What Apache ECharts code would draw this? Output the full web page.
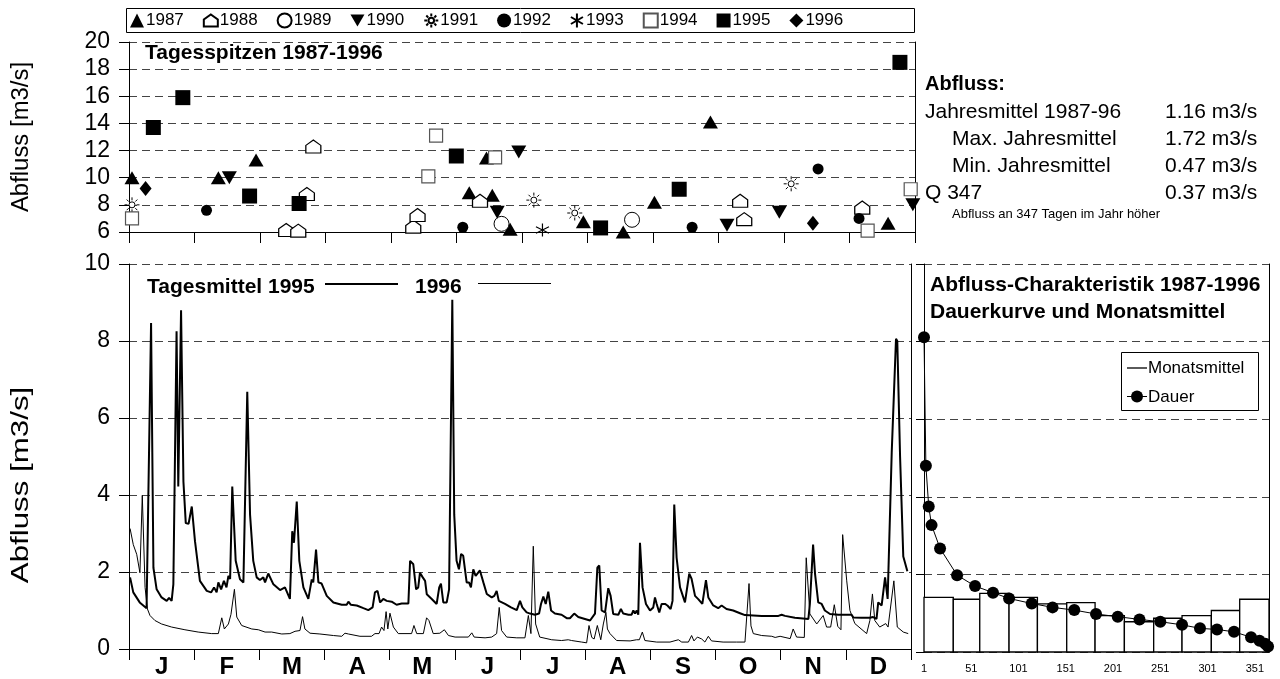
<!DOCTYPE html>
<html lang="de">
<head>
<meta charset="utf-8" />
<title>Abfluss 1987-1996</title>
<script src="https://cdn.jsdelivr.net/npm/echarts@6/dist/echarts.min.js"></script>
<style>
  html, body { margin: 0; padding: 0; background: #fff; }
  #main { width: 1280px; height: 679px; }
</style>
</head>
<body>
<div id="main"></div>
<script type="text/javascript">

// --- data ------------------------------------------------------------
var months = ['J', 'F', 'M', 'A', 'M', 'J', 'J', 'A', 'S', 'O', 'N', 'D'];
var years = ['1987', '1988', '1989', '1990', '1991', '1992', '1993', '1994', '1995', '1996'];

// daily peaks [day of year, m3/s]
var peaks1987 = [[1.4, 10], [41.5, 10], [59, 11.3], [158, 8.9], [166, 11.45], [168.7, 8.7], [177, 6.2], [211, 6.75], [229.5, 6.0], [244, 8.2], [270, 14.1], [352.5, 6.65]];
var peaks1988 = [[73, 6.15], [78.6, 6.1], [82.6, 8.8], [85.6, 12.3], [132, 6.4], [134, 7.25], [163, 8.3], [283.8, 8.3], [285.7, 6.95], [340.5, 7.8]];
var peaks1989 = [[173, 6.6], [233.6, 6.9]];
var peaks1990 = [[46.6, 10], [171, 7.45], [181, 11.9], [277.7, 6.5], [302, 7.45], [364, 8.0]];
var peaks1991 = [[1.4, 8], [188, 8.35], [207, 7.4], [307.5, 9.55]];
var peaks1992 = [[36, 7.6], [155, 6.35], [261.5, 6.35], [320, 10.65], [339, 7.0]];
var peaks1993 = [[192, 6.15]];
var peaks1994 = [[1.4, 7.0], [139, 10.1], [142.6, 13.1], [170, 11.5], [343, 6.1], [363, 9.15]];
var peaks1995 = [[11.3, 13.7], [25, 15.9], [56, 8.65], [79, 8.1], [152, 11.6], [219, 6.3], [255.5, 9.15], [358, 18.5]];
var peaks1996 = [[7.7, 9.2], [317.6, 6.65]];

// daily means [day of year, m3/s]
var mean1995 = [[0.5,1.86],[2,1.47],[5,1.21],[8.2,1.06],[10.3,8.47],[11.4,2.11],[12.9,1.55],[15.2,1.34],[17.6,1.25],[18.7,1.33],[19.9,1.25],[20.7,1.68],[22.2,8.25],[23,4.22],[24.3,8.8],[25.4,4.35],[26.5,3.27],[27.8,3.25],[29.3,3.7],[30.8,2.8],[33.1,1.77],[36.3,1.51],[38.3,1.47],[39.7,1.6],[40.9,1.47],[41.7,1.73],[43,1.55],[44.3,1.77],[45.5,1.6],[46.4,1.9],[47.2,1.82],[48.2,4.22],[49.8,2.29],[51.8,1.81],[53.4,1.73],[55.2,6.68],[56.5,3.49],[58,2.29],[59.6,1.86],[61.1,1.79],[62.7,1.86],[63.5,1.73],[65,1.96],[67.4,1.68],[70.5,1.53],[72.8,1.6],[75.1,1.3],[76.2,3.06],[77,2.76],[78.3,3.83],[79.5,2.29],[81.4,1.6],[83.7,1.3],[85.3,1.81],[86,1.73],[87.3,2.58],[88.4,1.73],[89.9,1.7],[92.3,1.38],[95.4,1.21],[99.3,1.15],[101.6,1.15],[102.4,1.23],[103.5,1.15],[106.3,1.13],[109.4,1.06],[111.7,1.01],[113.7,1.08],[114.8,1.47],[116,1.51],[117.2,1.21],[118.7,1.3],[120.3,1.25],[122.6,1.23],[124.9,1.15],[127.3,1.18],[130.4,1.18],[131.2,2.29],[132.7,2.2],[134,1.55],[135,1.6],[135.8,1.98],[137.1,1.86],[138.2,1.77],[139,1.42],[141.3,1.3],[143.6,1.17],[144.8,1.6],[145.6,1.7],[146.7,1.21],[148.3,1.21],[149.4,1.55],[150.9,9.07],[151.8,3.49],[152.9,2.29],[154,2.07],[155,2.47],[156,2.42],[157.6,1.73],[158.7,1.73],[159.6,1.6],[160.7,2.07],[161.8,1.9],[163.8,2.04],[165.4,1.73],[167,1.43],[169.3,1.34],[170.5,1.38],[171.6,1.51],[172.6,1.25],[175.5,1.17],[178.3,1.08],[181,1.01],[182.5,1.25],[183.6,1.08],[185.6,0.95],[187.2,0.92],[189.5,0.89],[191.4,0.92],[192.3,1.17],[193.4,1.36],[194.5,1.17],[195.7,1.49],[197,1.0],[198.8,0.92],[201.9,0.89],[204.3,0.8],[205.8,0.8],[207.8,0.92],[209.7,0.83],[212.8,0.78],[215.2,0.74],[217.5,0.92],[218.6,2.11],[219.5,2.17],[220.6,1.0],[222.2,0.95],[223.7,1.58],[224.8,1.38],[226,0.91],[228.4,0.89],[229.6,1.04],[230.7,0.92],[233.1,0.89],[233.9,0.92],[234.6,0.89],[235.4,1.0],[236.2,0.92],[237,1.0],[237.7,0.89],[238.5,2.76],[239.7,1.6],[241.3,1.17],[243.2,1.0],[244.7,1.08],[245.5,1.34],[246.3,1.17],[247.5,0.95],[248.6,1.17],[250.2,1.17],[251.3,1.13],[252.8,1.04],[253.7,1.25],[254.5,3.75],[255.6,2.37],[257.2,1.6],[259.5,1.21],[261.5,1.96],[262.6,1.82],[264.2,1.38],[265.8,1.29],[266.6,1.3],[267.6,1.17],[269.3,1.79],[270.4,1.34],[272.7,1.13],[275,1.06],[276.6,1.13],[278.9,1.04],[282,1.0],[285.2,0.93],[287.5,0.88],[295.3,0.86],[303.1,0.86],[304.6,0.89],[306.2,0.86],[310.8,0.81],[317.1,0.78],[317.8,1.17],[319.3,2.71],[320.2,1.96],[321.7,1.21],[323.3,1.17],[324.8,1.0],[327.2,0.91],[331.1,0.89],[335.7,0.89],[337.3,0.89],[338.1,0.82],[341.9,0.81],[345.8,0.81],[347.3,0.83],[348.9,0.78],[349.7,1.21],[351.3,1.13],[352.9,1.86],[354.1,1.3],[356,5.1],[358,8.06],[358.6,8.0],[359.9,5.0],[361.4,2.4],[363.3,2.02]];

var mean1996 = [[0.5,3.13],[2,2.71],[3.6,2.46],[5.1,1.98],[6.2,3.99],[7.5,1.6],[8.6,1.04],[9.8,0.87],[12.1,0.74],[15.2,0.65],[19.9,0.57],[26.1,0.5],[32.3,0.44],[38.6,0.4],[41.7,0.4],[43.3,0.81],[44.5,0.52],[46.4,0.65],[47.6,0.9],[49.2,1.55],[50.3,0.83],[52.6,0.61],[57.3,0.52],[60.4,0.5],[63.5,0.44],[66.6,0.44],[71.3,0.39],[75.1,0.4],[77.5,0.46],[79.8,0.48],[81,0.84],[82.1,0.52],[84.5,0.41],[89.1,0.39],[95.4,0.35],[99.3,0.33],[100.8,0.41],[102.4,0.39],[107.8,0.33],[113.2,0.33],[114.8,0.4],[116.7,0.4],[117.9,0.57],[119,0.48],[120,0.97],[120.8,0.52],[121.8,0.93],[123.4,0.57],[125.7,0.4],[131.9,0.4],[133,0.61],[134.3,0.4],[137.4,0.4],[138.9,0.81],[140,0.74],[142,0.4],[145.1,0.41],[147.2,0.5],[149.1,0.35],[152.2,0.31],[158.4,0.31],[160,0.42],[161.1,0.31],[166.2,0.29],[169.3,0.31],[171.6,0.4],[172.8,1.08],[173.9,0.48],[176.3,0.31],[181,0.29],[184.8,0.29],[186.4,0.87],[187.6,0.4],[188.7,2.67],[189.8,0.65],[191.7,0.31],[197.3,0.24],[201.9,0.22],[205,0.24],[206.6,0.22],[211.3,0.18],[213.6,0.16],[214.7,0.61],[216,0.3],[217.1,0.26],[218.6,0.61],[220.2,0.24],[221.4,0.65],[222.6,0.95],[223.3,0.52],[224.5,0.4],[227.6,0.22],[233.9,0.21],[236.9,0.24],[238.2,0.24],[239.6,0.44],[240.8,0.22],[246.3,0.18],[252.5,0.18],[256.4,0.24],[258,0.18],[261.1,0.18],[262.6,0.35],[263.7,0.21],[265.3,0.31],[267.3,0.26],[268.8,0.18],[270.4,0.33],[271.9,0.21],[277.3,0.18],[283.5,0.18],[287.5,0.18],[289.4,1.7],[290.3,0.6],[291.4,0.4],[295.3,0.35],[300,0.33],[301.6,0.3],[303.9,0.33],[306.2,0.3],[308.6,0.27],[310,0.52],[311.6,0.31],[315.2,0.3],[316.1,2.37],[317.8,0.91],[321,0.65],[324,0.87],[325.6,0.57],[327.5,0.57],[329.2,1.15],[330.8,0.59],[332.3,0.5],[333.1,2.97],[335,1.77],[336.5,1.0],[338.8,0.66],[344.3,0.4],[345.8,0.74],[347,1.43],[348.1,0.74],[350.4,0.57],[353.2,0.66],[354.3,0.57],[357,1.77],[358.6,0.57],[361.4,0.44],[363.7,0.4]];

// monthly means 1987-1996 and duration curve
var monthStart = [0, 31, 59, 90, 120, 151, 181, 212, 243, 273, 304, 334, 365];
var monthMean = [1.41, 1.36, 1.51, 1.41, 1.24, 1.27, 0.94, 0.78, 0.87, 0.94, 1.07, 1.36];
var dauerDay = [1, 3, 6, 9, 18, 36, 55, 74, 91, 115, 137, 160, 183, 206, 229, 251, 274, 293, 311, 329, 347, 356, 362, 365];
var dauerValue = [8.11, 4.8, 3.75, 3.27, 2.67, 1.98, 1.7, 1.53, 1.38, 1.25, 1.15, 1.08, 0.98, 0.91, 0.84, 0.78, 0.70, 0.61, 0.58, 0.52, 0.38, 0.29, 0.21, 0.14];

// key figures
var statLabels = ['Jahresmittel 1987-96', 'Max. Jahresmittel', 'Min. Jahresmittel', 'Q 347'];
var statValues = ['1.16 m3/s', '1.72 m3/s', '0.47 m3/s', '0.37 m3/s'];

// --- styles ----------------------------------------------------------
var FONT = "'Liberation Sans', Arial, Helvetica, sans-serif";
var GRID_LINE = { lineStyle: { color: '#444', type: [8, 5], width: 1 } };

var peaks = {
    '1987': peaks1987, '1988': peaks1988, '1989': peaks1989, '1990': peaks1990, '1991': peaks1991,
    '1992': peaks1992, '1993': peaks1993, '1994': peaks1994, '1995': peaks1995, '1996': peaks1996
};

var sun = 'path://M10,0 L10,4 M10,16 L10,20 M0,10 L4,10 M16,10 L20,10 M2.9,2.9 L5.6,5.6 M14.4,14.4 L17.1,17.1 M2.9,17.1 L5.6,14.4 M14.4,5.6 L17.1,2.9 M14,10 A4,4 0 1 1 6,10 A4,4 0 1 1 14,10 Z';
var markers = {
    '1987': { symbol: 'triangle', size: [15, 13], color: '#000' },
    '1988': { symbol: 'path://M0,12 L0,5 L7,0 L14,5 L14,12 Z', size: [15, 13], color: '#fff', border: '#000', bw: 1.2 },
    '1989': { symbol: 'circle', size: 15, color: '#fff', border: '#000', bw: 1 },
    '1990': { symbol: 'path://M0,0 L14,0 L7,12 Z', size: [15, 13], color: '#000' },
    '1991': { symbol: sun, size: 15, color: '#fff', border: '#000', bw: 1 },
    '1992': { symbol: 'circle', size: 11, color: '#000' },
    '1993': { symbol: 'path://M5,0 L5,10 M0.7,2.5 L9.3,7.5 M0.7,7.5 L9.3,2.5', size: 13, color: 'rgba(0,0,0,0)', border: '#000', bw: 1.2 },
    '1994': { symbol: 'rect', size: 13, color: '#fff', border: '#555', bw: 1.2 },
    '1995': { symbol: 'rect', size: 15, color: '#000' },
    '1996': { symbol: 'diamond', size: [12, 15], color: '#000' }
};

var series = years.map(function (y) {
    var m = markers[y];
    return {
        name: y, type: 'scatter', xAxisIndex: 1, yAxisIndex: 0,
        symbol: m.symbol, symbolSize: m.size,
        itemStyle: { color: m.color, borderColor: m.border || m.color, borderWidth: m.bw || 0, opacity: 1 },
        data: peaks[y], z: 5
    };
});

series.push({
    name: 'Tagesmittel 1996', type: 'line', xAxisIndex: 3, yAxisIndex: 2,
    showSymbol: false, symbol: 'none', lineStyle: { color: '#000', width: 1 }, data: mean1996
});
series.push({
    name: 'Tagesmittel 1995', type: 'line', xAxisIndex: 3, yAxisIndex: 2,
    showSymbol: false, symbol: 'none', lineStyle: { color: '#000', width: 2 }, data: mean1995
});

series.push({
    name: 'Monatsmittel', type: 'custom', xAxisIndex: 4, yAxisIndex: 4,
    data: monthMean.map(function (v, i) { return [monthStart[i], monthStart[i + 1], v]; }),
    encode: { x: [0, 1], y: 2 },
    renderItem: function (params, api) {
        var p0 = api.coord([api.value(0), api.value(2)]);
        var p1 = api.coord([api.value(1), 0]);
        return {
            type: 'rect',
            shape: { x: p0[0], y: p0[1], width: p1[0] - p0[0], height: p1[1] - p0[1] },
            style: { fill: '#fff', stroke: '#000', lineWidth: 1.3 }
        };
    },
    z: 2
});
series.push({
    name: 'Dauer', type: 'line', xAxisIndex: 4, yAxisIndex: 4,
    symbol: 'circle', symbolSize: 12,
    itemStyle: { color: '#000' }, lineStyle: { color: '#000', width: 1 },
    data: dauerDay.map(function (d, i) { return [d - 1, dauerValue[i]]; }),
    z: 4
});

function txt(x, y, text, size, bold, extra) {
    var o = {
        type: 'text', x: x, y: y, silent: true,
        style: {
            text: text, fill: '#000', font: (bold ? 'bold ' : '') + size + 'px ' + FONT,
            verticalAlign: 'middle', align: (extra && extra.center) ? 'center' : 'left'
        }
    };
    if (extra) {
        for (var k in extra) { if (k !== 'center') o[k] = extra[k]; }
    }
    return o;
}

var graphics = [
    { type: 'rect', shape: { x: 126.5, y: 8.5, width: 788, height: 24 }, style: { fill: 'none', stroke: '#000', lineWidth: 1 }, silent: true },
    txt(145, 53, 'Tagesspitzen 1987-1996', 21, true),
    txt(22, 137, 'Abfluss [m3/s]', 23, false, { center: true, rotation: Math.PI / 2, scaleX: 1.04 }),
    txt(22, 485, 'Abfluss [m3/s]', 23, false, { center: true, rotation: Math.PI / 2, scaleX: 1.36 }),
    txt(147, 287, 'Tagesmittel 1995', 21, true),
    { type: 'line', shape: { x1: 325, y1: 284, x2: 398, y2: 284 }, style: { stroke: '#000', lineWidth: 2 }, silent: true },
    txt(415, 287, '1996', 21, true),
    { type: 'line', shape: { x1: 478, y1: 283.5, x2: 551, y2: 283.5 }, style: { stroke: '#000', lineWidth: 1 }, silent: true },
    txt(930, 285, 'Abfluss-Charakteristik 1987-1996', 21, true),
    txt(930, 312, 'Dauerkurve und Monatsmittel', 21, true),
    { type: 'rect', shape: { x: 1121.5, y: 352.5, width: 137, height: 58 }, style: { fill: '#fff', stroke: '#000', lineWidth: 1 }, silent: true, z: 10 },
    { type: 'line', shape: { x1: 1127, y1: 368, x2: 1147, y2: 368 }, style: { stroke: '#000', lineWidth: 1.3 }, silent: true, z: 11 },
    txt(1148, 368, 'Monatsmittel', 17, false, { z: 11 }),
    { type: 'line', shape: { x1: 1127, y1: 396.5, x2: 1147, y2: 396.5 }, style: { stroke: '#000', lineWidth: 1 }, silent: true, z: 11 },
    { type: 'circle', shape: { cx: 1137, cy: 396.5, r: 6 }, style: { fill: '#000' }, silent: true, z: 11 },
    txt(1148, 397, 'Dauer', 17, false, { z: 11 }),
    txt(925, 84, 'Abfluss:', 20, true),
    txt(952, 214, 'Abfluss an 347 Tagen im Jahr höher', 13, false)
];
var statX = [925, 952, 952, 925];
statLabels.forEach(function (s, i) {
    graphics.push(txt(statX[i], 112 + i * 27, s, 21, false));
    graphics.push(txt(1165, 112 + i * 27, statValues[i], 21, false));
});

var myChart = echarts.init(document.getElementById('main'), null, { renderer: 'canvas' });

var option = {
    animation: false,
    backgroundColor: '#fff',
    textStyle: { fontFamily: FONT, color: '#000' },
    legend: {
        data: years, left: 130, top: 12, padding: 0, itemGap: 19,
        itemWidth: 14, itemHeight: 14, selectedMode: false,
        textStyle: { fontSize: 17, color: '#000', fontFamily: FONT, padding: [0, 0, 0, -3] }
    },
    grid: [
        { left: 129, top: 42, width: 786, height: 190 },
        { left: 129, top: 264, width: 782, height: 388 },
        { left: 924, top: 264, width: 345, height: 388 }
    ],
    xAxis: [
        {
            gridIndex: 0, type: 'category', data: months, boundaryGap: true,
            axisLine: { lineStyle: { color: '#000', width: 1 } },
            axisTick: { show: true, interval: 0, length: 11, lineStyle: { color: '#000' } },
            axisLabel: { show: false }, splitLine: { show: false }
        },
        { gridIndex: 0, type: 'value', min: 0, max: 365, show: false },
        {
            gridIndex: 1, type: 'category', data: months, boundaryGap: true,
            axisLine: { lineStyle: { color: '#000', width: 1 } },
            axisTick: { show: true, interval: 0, length: 11, lineStyle: { color: '#000' } },
            axisLabel: { interval: 0, fontSize: 24, fontWeight: 'bold', color: '#000', margin: 6, fontFamily: FONT },
            splitLine: { show: false }
        },
        { gridIndex: 1, type: 'value', min: 0, max: 365, show: false },
        {
            gridIndex: 2, type: 'value', min: 0, max: 365, interval: 50,
            axisLine: { show: false }, axisTick: { show: false }, splitLine: { show: false },
            axisLabel: {
                fontSize: 11, color: '#000', margin: 11, showMaxLabel: false,
                formatter: function (v) { return String(v + 1); }
            }
        }
    ],
    yAxis: [
        {
            gridIndex: 0, type: 'value', min: 6, max: 20, interval: 2,
            axisLine: { show: true, lineStyle: { color: '#000' } },
            axisTick: { show: true, length: 10, lineStyle: { color: '#000' } },
            axisLabel: { fontSize: 23, color: '#000', margin: 19, fontFamily: FONT },
            splitLine: GRID_LINE
        },
        {
            gridIndex: 0, type: 'value', min: 6, max: 20, position: 'right',
            axisLine: { show: true, lineStyle: { color: '#000' } },
            axisTick: { show: false }, axisLabel: { show: false }, splitLine: { show: false }
        },
        {
            gridIndex: 1, type: 'value', min: 0, max: 10, interval: 2,
            axisLine: { show: true, lineStyle: { color: '#000' } },
            axisTick: { show: true, length: 10, lineStyle: { color: '#000' } },
            axisLabel: { fontSize: 23, color: '#000', margin: 19, fontFamily: FONT },
            splitLine: GRID_LINE
        },
        {
            gridIndex: 1, type: 'value', min: 0, max: 10, position: 'right',
            axisLine: { show: true, lineStyle: { color: '#000' } },
            axisTick: { show: false }, axisLabel: { show: false }, splitLine: { show: false }
        },
        {
            gridIndex: 2, type: 'value', min: 0, max: 10, interval: 2,
            axisLine: { show: true, lineStyle: { color: '#000' } },
            axisTick: { show: true, length: 8, lineStyle: { color: '#000' } },
            axisLabel: { show: false },
            splitLine: GRID_LINE
        },
        {
            gridIndex: 2, type: 'value', min: 0, max: 10, position: 'right',
            axisLine: { show: true, lineStyle: { color: '#000' } },
            axisTick: { show: false }, axisLabel: { show: false }, splitLine: { show: false }
        }
    ],
    series: series,
    graphic: graphics
};

myChart.setOption(option);

</script>
</body>
</html>
